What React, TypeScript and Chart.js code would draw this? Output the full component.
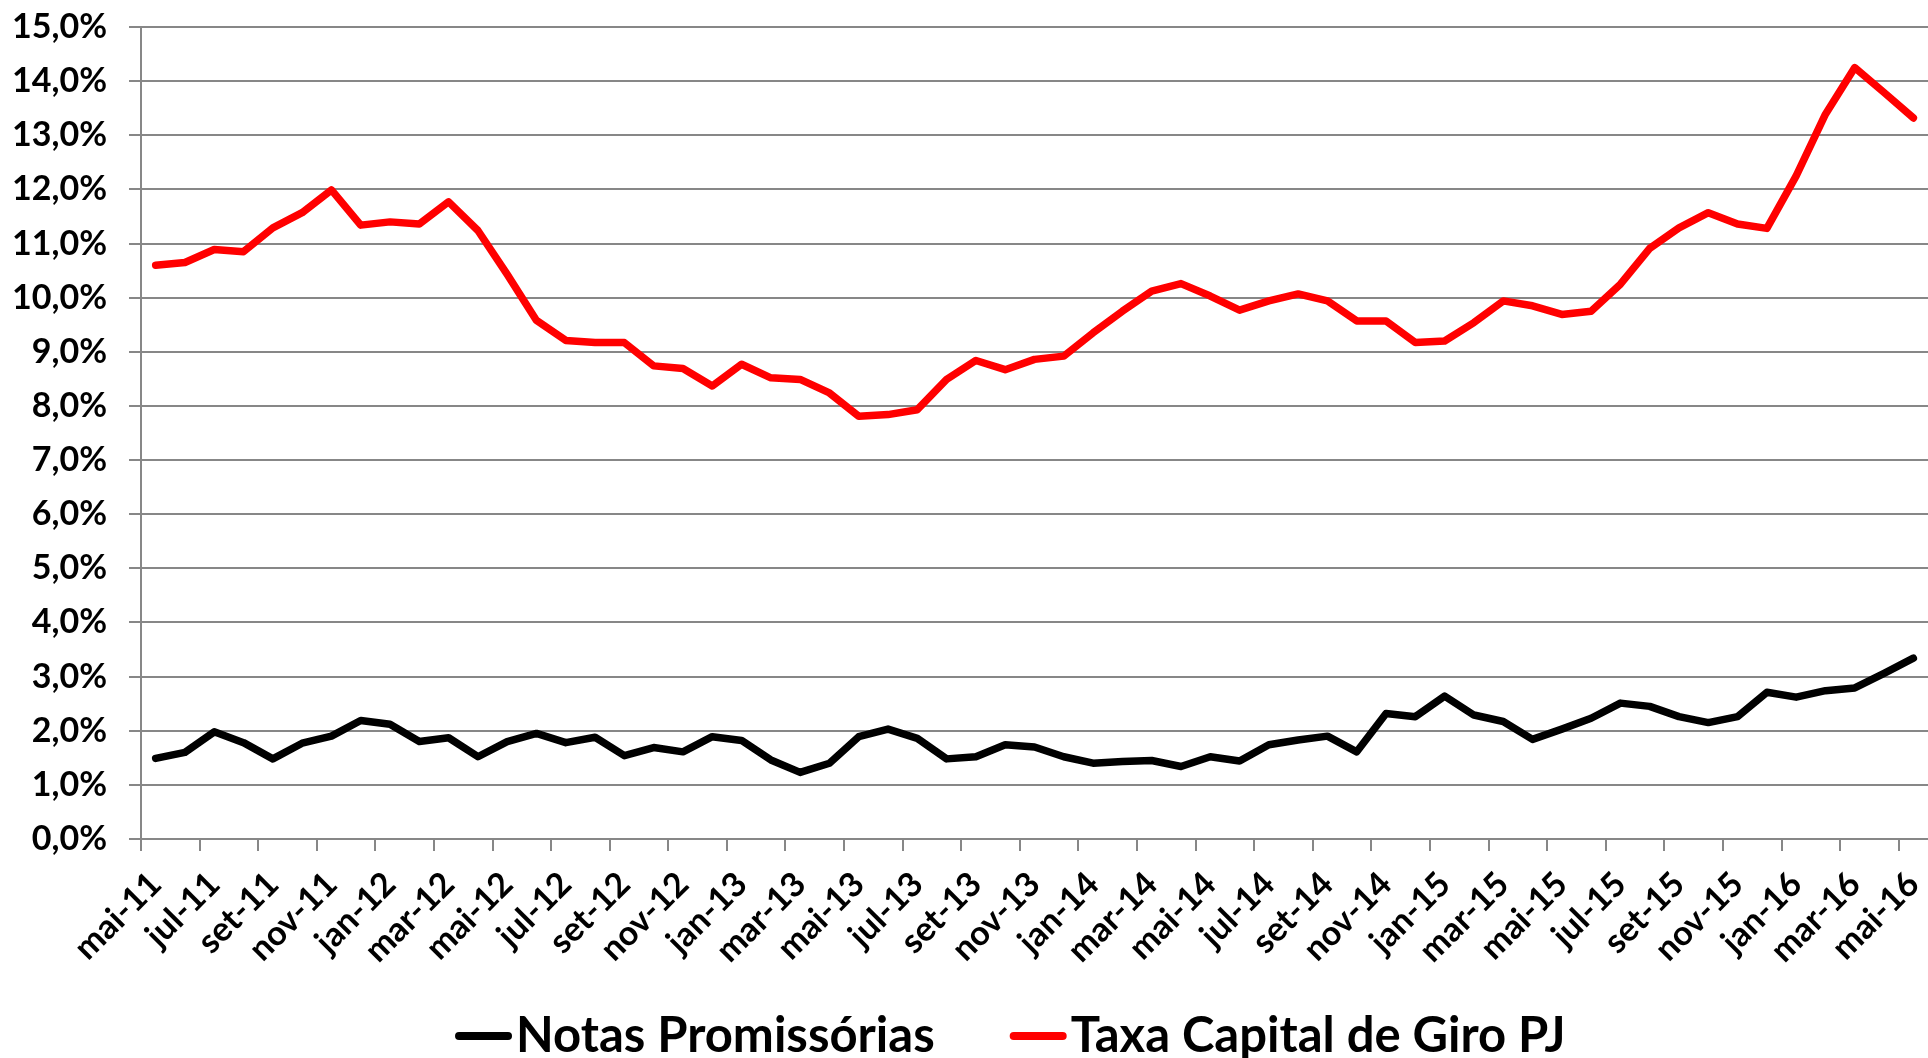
import React, { useEffect, useRef } from "react";
import { Chart, registerables } from "chart.js";

Chart.register(...registerables);

const categories = [
  "mai-11", "jun-11", "jul-11", "ago-11", "set-11", "out-11", "nov-11", "dez-11",
  "jan-12", "fev-12", "mar-12", "abr-12", "mai-12", "jun-12", "jul-12", "ago-12",
  "set-12", "out-12", "nov-12", "dez-12", "jan-13", "fev-13", "mar-13", "abr-13",
  "mai-13", "jun-13", "jul-13", "ago-13", "set-13", "out-13", "nov-13", "dez-13",
  "jan-14", "fev-14", "mar-14", "abr-14", "mai-14", "jun-14", "jul-14", "ago-14",
  "set-14", "out-14", "nov-14", "dez-14", "jan-15", "fev-15", "mar-15", "abr-15",
  "mai-15", "jun-15", "jul-15", "ago-15", "set-15", "out-15", "nov-15", "dez-15",
  "jan-16", "fev-16", "mar-16", "abr-16", "mai-16",
];

const notasPromissorias = [
  1.49, 1.60, 1.98, 1.78, 1.48, 1.77, 1.90, 2.19, 2.12, 1.80,
  1.87, 1.52, 1.80, 1.95, 1.78, 1.88, 1.54, 1.69, 1.61, 1.89,
  1.82, 1.46, 1.23, 1.40, 1.89, 2.03, 1.86, 1.48, 1.52, 1.74,
  1.70, 1.52, 1.40, 1.43, 1.45, 1.34, 1.52, 1.44, 1.74, 1.83,
  1.90, 1.61, 2.32, 2.26, 2.64, 2.29, 2.17, 1.84, 2.03, 2.23,
  2.51, 2.45, 2.26, 2.15, 2.26, 2.71, 2.62, 2.74, 2.79, 3.06,
  3.34,
];

const taxaCapitalGiro = [
  10.60, 10.65, 10.89, 10.85, 11.29, 11.57, 11.99, 11.34, 11.40, 11.36,
  11.77, 11.24, 10.43, 9.58, 9.21, 9.17, 9.17, 8.74, 8.69, 8.37,
  8.77, 8.52, 8.49, 8.24, 7.81, 7.84, 7.93, 8.49, 8.84, 8.67,
  8.86, 8.92, 9.35, 9.75, 10.12, 10.26, 10.03, 9.77, 9.94, 10.07,
  9.94, 9.57, 9.57, 9.17, 9.20, 9.54, 9.94, 9.85, 9.69, 9.75,
  10.25, 10.91, 11.29, 11.57, 11.36, 11.28, 12.25, 13.39, 14.25, 13.79,
  13.32,
];

const seriesLabels = ["Notas Promissórias", "Taxa Capital de Giro PJ"];
const seriesColors = ["#000000", "#ff0000"];

const FONT = 'Lato, "Liberation Sans", sans-serif';
const GRID = "#878787";
const TICK_SIZE = 34;
const LEGEND_SIZE = 49;

const legendPlugin = {
  id: "customLegend",
  afterDraw(chart: any) {
    const ctx = chart.ctx;
    ctx.save();
    ctx.font = `bold ${LEGEND_SIZE}px ${FONT}`;
    const lineLen = 57;
    const gapLT = 4;
    const gapItems = 75;
    const items = chart.data.datasets.map((ds: any) => ({
      label: ds.label,
      color: ds.borderColor,
      w: ctx.measureText(ds.label).width,
    }));
    const total =
      items.reduce((s: number, it: any) => s + lineLen + gapLT + it.w, 0) +
      gapItems * (items.length - 1);
    let x = chart.width * 0.524 - total / 2;
    const y = chart.height - 22;
    ctx.textBaseline = "middle";
    ctx.textAlign = "left";
    for (const it of items) {
      ctx.strokeStyle = it.color;
      ctx.lineWidth = 8;
      ctx.lineCap = "round";
      ctx.beginPath();
      ctx.moveTo(x + 4, y);
      ctx.lineTo(x + lineLen - 4, y);
      ctx.stroke();
      ctx.fillStyle = "#000";
      ctx.fillText(it.label, x + lineLen + gapLT, y);
      x += lineLen + gapLT + it.w + gapItems;
    }
    ctx.restore();
  },
};

export default function App() {
  const ref = useRef<HTMLCanvasElement | null>(null);

  useEffect(() => {
    document.body.style.margin = "0";
    const canvas = ref.current;
    if (!canvas) return;
    Chart.defaults.font.family = FONT;
    const chart = new Chart(canvas, {
      type: "line",
      data: {
        labels: categories,
        datasets: [
          {
            label: seriesLabels[0],
            data: notasPromissorias,
            borderColor: seriesColors[0],
            backgroundColor: seriesColors[0],
            borderWidth: 7.5,
            pointRadius: 0,
            tension: 0,
            borderJoinStyle: "round",
            borderCapStyle: "round",
          },
          {
            label: seriesLabels[1],
            data: taxaCapitalGiro,
            borderColor: seriesColors[1],
            backgroundColor: seriesColors[1],
            borderWidth: 7.5,
            pointRadius: 0,
            tension: 0,
            borderJoinStyle: "round",
            borderCapStyle: "round",
          },
        ],
      },
      options: {
        responsive: false,
        animation: false,
        layout: { padding: { top: 27, right: 0, bottom: 89, left: 0 } },
        plugins: {
          legend: { display: false },
          tooltip: { enabled: false },
        },
        scales: {
          x: {
            offset: true,
            grid: {
              offset: true,
              drawOnChartArea: false,
              drawTicks: true,
              tickLength: 12,
              lineWidth: 2,
              color: (c: any) => (c.index % 2 === 0 ? GRID : "rgba(0,0,0,0)"),
            },
            border: { display: true, color: GRID, width: 2 },
            ticks: {
              autoSkip: false,
              maxRotation: 45,
              minRotation: 45,
              padding: 13,
              color: "#000",
              font: { size: TICK_SIZE, weight: "bold" },
              callback: (_v: any, i: number) => (i % 2 === 0 ? categories[i] : ""),
            },
            afterFit: (scale: any) => {
              scale.height = 130;
              scale.paddingLeft = 0;
              scale.paddingRight = 0;
            },
          },
          y: {
            min: 0,
            max: 15,
            ticks: {
              stepSize: 1,
              padding: 22,
              color: "#000",
              font: { size: TICK_SIZE, weight: "bold" },
              callback: (v: any) => Number(v).toFixed(1).replace(".", ",") + "%",
            },
            grid: {
              color: GRID,
              lineWidth: 2,
              tickLength: 12,
              drawTicks: true,
            },
            border: { display: true, color: GRID, width: 2 },
            afterFit: (scale: any) => {
              scale.width = 141;
              scale.paddingTop = 0;
              scale.paddingBottom = 0;
            },
          },
        },
      },
      plugins: [legendPlugin],
    });
    return () => chart.destroy();
  }, []);

  return (
    <div style={{ width: 1928, height: 1058, background: "#fff" }}>
      <canvas ref={ref} width={1928} height={1058} style={{ display: "block" }} />
    </div>
  );
}
